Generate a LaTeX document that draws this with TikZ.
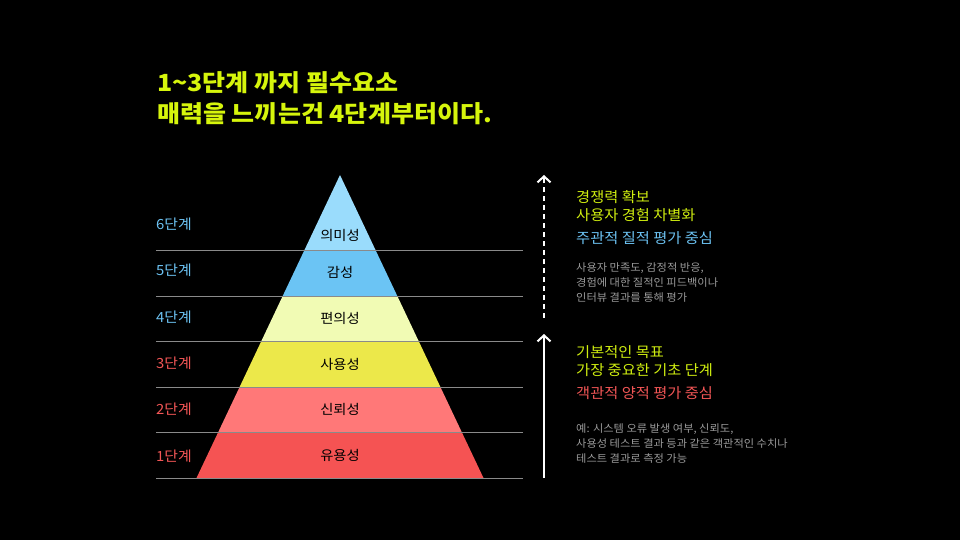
\documentclass[tikz,border=0pt]{standalone}
\usepackage{fontspec}
\setmainfont{Noto Sans CJK KR}
\newfontfamily\kr[FakeStretch=1.06]{Noto Sans CJK KR}
\usetikzlibrary{arrows.meta}
\definecolor{titlecol}{HTML}{D6F50C}
\definecolor{accent}{HTML}{D0EE10}
\definecolor{bluecol}{HTML}{6CC2F2}
\definecolor{redcol}{HTML}{F25656}
\definecolor{graytxt}{HTML}{9A9A9A}
\definecolor{lay6}{HTML}{9ADCFC}
\definecolor{lay5}{HTML}{6BC4F4}
\definecolor{lay4}{HTML}{F1FBB4}
\definecolor{lay3}{HTML}{ECE84A}
\definecolor{lay2}{HTML}{FF7878}
\definecolor{lay1}{HTML}{F55353}
\definecolor{rule}{HTML}{8A8A8A}
\begin{document}
\begin{tikzpicture}[x=1pt,y=-1pt,
  titletxt/.style={anchor=base west,inner sep=0pt,text=titlecol,font=\kr\bfseries\fontsize{23.6}{28}\selectfont},
  stagetxt/.style={anchor=west,inner sep=0pt,font=\kr\fontsize{14}{16}\selectfont},
  laytxt/.style={anchor=center,inner sep=0pt,text=black,font=\kr\fontsize{13.5}{16}\selectfont},
  righttxt/.style={anchor=base west,inner sep=0pt,font=\kr\fontsize{14.4}{16}\selectfont},
  smalltxt/.style={anchor=base west,inner sep=0pt,text=graytxt,font=\kr\fontsize{10.6}{12}\selectfont},
  ruleline/.style={draw=rule,line width=0.9pt},
  arr/.style={draw=white,line width=2pt,-{Straight Barb[length=6pt,width=13pt,line width=2pt]}}
]
\fill[black] (0,0) rectangle (960,540);
\useasboundingbox (0,0) rectangle (960,540);

% pyramid layers: apex (340,175), base y=478 halfwidth 143.5
\foreach \ya/\yb/\c in {175/250/lay6,250/296/lay5,296/341/lay4,341/387/lay3,387/432/lay2,432/478/lay1}{
  \pgfmathsetmacro\wa{0.473597*(\ya-175)}
  \pgfmathsetmacro\wb{0.473597*(\yb-175)}
  \fill[\c] ({340-\wa},\ya) -- ({340+\wa},\ya) -- ({340+\wb},\yb) -- ({340-\wb},\yb) -- cycle;
}

% rules
\foreach \y in {250,296,341,387,432,478}{
  \draw[ruleline] (156,\y) -- (523,\y);
}

% layer labels
\node[laytxt] (l6) at (340,235) {의미성};
\node[laytxt] (l5) at (340,272) {감성};
\node[laytxt] (l4) at (340,318) {편의성};
\node[laytxt] (l3) at (340,364) {사용성};
\node[laytxt] (l2) at (340,409) {신뢰성};
\node[laytxt] (l1) at (340,455) {유용성};

% stage labels
\node[stagetxt,text=bluecol] (s6) at (156,224) {6단계};
\node[stagetxt,text=bluecol] (s5) at (156,270) {5단계};
\node[stagetxt,text=bluecol] (s4) at (156,317) {4단계};
\node[stagetxt,text=redcol] (s3) at (156,363) {3단계};
\node[stagetxt,text=redcol] (s2) at (156,409) {2단계};
\node[stagetxt,text=redcol] (s1) at (156,456) {1단계};

% title
\node[titletxt] (t1) at (157,92) {1\textasciitilde3단계 까지 필수요소};
\node[titletxt] (t2) at (157,123) {매력을 느끼는건 4단계부터이다.};

% arrows
\coordinate (d0) at (544,318);
\coordinate (d1) at (544,175);
\coordinate (a0) at (544,478);
\coordinate (a1) at (544,334);
\draw[white,line width=2pt,dash pattern=on 5pt off 4pt] (d0) -- (544,181);
\draw[arr] (544,183) -- (d1);
\draw[arr] (a0) -- (a1);

% upper right text
\node[righttxt,text=accent] (u1) at (576,202) {경쟁력 확보};
\node[righttxt,text=accent] (u2) at (576,220) {사용자 경험 차별화};
\node[righttxt,text=bluecol] (u3) at (576,243) {주관적 질적 평가 중심};
\node[smalltxt] (u4) at (576,271) {사용자 만족도, 감정적 반응,};
\node[smalltxt] (u5) at (576,286) {경험에 대한 질적인 피드백이나};
\node[smalltxt] (u6) at (576,301) {인터뷰 결과를 통해 평가};

% lower right text
\node[righttxt,text=accent] (b1) at (576,357) {기본적인 목표};
\node[righttxt,text=accent] (b2) at (576,375) {가장 중요한 기초 단계};
\node[righttxt,text=redcol] (b3) at (576,398) {객관적 양적 평가 중심};
\node[smalltxt] (b4) at (576,432) {예: 시스템 오류 발생 여부, 신뢰도,};
\node[smalltxt] (b5) at (576,447) {사용성 테스트 결과 등과 같은 객관적인 수치나};
\node[smalltxt] (b6) at (576,462) {테스트 결과로 측정 가능};
\end{tikzpicture}
\end{document}
